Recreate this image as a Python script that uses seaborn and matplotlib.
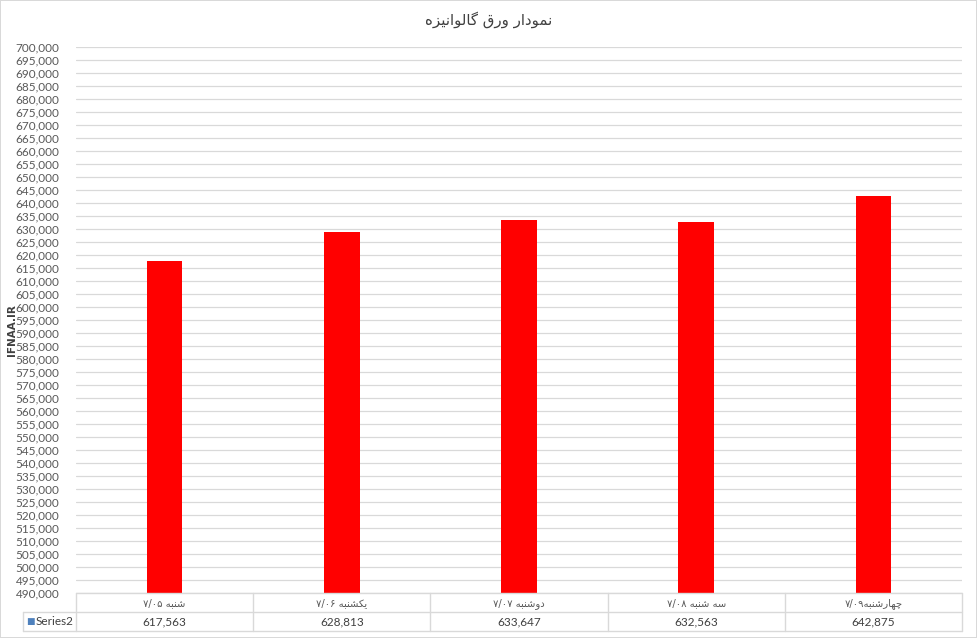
import re
import matplotlib
matplotlib.use("Agg")
import matplotlib.pyplot as plt
import matplotlib.ticker as mticker
from matplotlib.transforms import blended_transform_factory
import pandas as pd
import seaborn as sns

# ---------------- DATA ----------------
title = "نمودار ورق گالوانیزه"
categories = ["شنبه ۷/۰۵", "یکشنبه ۷/۰۶", "دوشنبه ۷/۰۷", "سه شنبه ۷/۰۸", "چهارشنبه۷/۰۹"]
values = [617563, 628813, 633647, 632563, 642875]
series_name = "Series2"
y_label = "IFNAA.IR"
y_min, y_max, y_step = 490000, 700000, 5000

# ---------------- ARABIC SHAPING ----------------
# matplotlib has no complex text layout, so letters are mapped to their
# presentation forms and put in visual order by hand
FORMS = {  # isolated, final, initial, medial
    "ا": ("\uFE8D", "\uFE8E", None, None),
    "ب": ("\uFE8F", "\uFE90", "\uFE91", "\uFE92"),
    "د": ("\uFEA9", "\uFEAA", None, None),
    "ر": ("\uFEAD", "\uFEAE", None, None),
    "ز": ("\uFEAF", "\uFEB0", None, None),
    "س": ("\uFEB1", "\uFEB2", "\uFEB3", "\uFEB4"),
    "ش": ("\uFEB5", "\uFEB6", "\uFEB7", "\uFEB8"),
    "ق": ("\uFED5", "\uFED6", "\uFED7", "\uFED8"),
    "ل": ("\uFEDD", "\uFEDE", "\uFEDF", "\uFEE0"),
    "م": ("\uFEE1", "\uFEE2", "\uFEE3", "\uFEE4"),
    "ن": ("\uFEE5", "\uFEE6", "\uFEE7", "\uFEE8"),
    "ه": ("\uFEE9", "\uFEEA", "\uFEEB", "\uFEEC"),
    "و": ("\uFEED", "\uFEEE", None, None),
    "ک": ("\uFB8E", "\uFB8F", "\uFB90", "\uFB91"),
    "گ": ("\uFB92", "\uFB93", "\uFB94", "\uFB95"),
    "ی": ("\uFBFC", "\uFBFD", "\uFBFE", "\uFBFF"),
    "چ": ("\uFB7A", "\uFB7B", "\uFB7C", "\uFB7D"),
}
DIGITS = "۰۱۲۳۴۵۶۷۸۹0123456789/,"


def joins_next(ch):
    return ch in FORMS and FORMS[ch][2] is not None


def shape(text):
    out = []
    for i, ch in enumerate(text):
        if ch not in FORMS:
            out.append(ch)
            continue
        prev = text[i - 1] if i > 0 else ""
        nxt = text[i + 1] if i + 1 < len(text) else ""
        p = joins_next(prev)
        n = joins_next(ch) and nxt in FORMS
        isol, fina, init, medi = FORMS[ch]
        if p and n:
            out.append(medi)
        elif p:
            out.append(fina)
        elif n:
            out.append(init)
        else:
            out.append(isol)
    s = "".join(out)
    runs = re.findall(r"[۰-۹0-9/,]+|[^۰-۹0-9/,]+", s)
    return "".join(r if r[0] in DIGITS else r[::-1] for r in reversed(runs))


# ---------------- PLOT ----------------
sns.set_style("white")
plt.rcParams["font.family"] = ["Lato", "DejaVu Sans"]

W, H = 977, 638
fig = plt.figure(figsize=(W / 100, H / 100), dpi=100, facecolor="white",
                 edgecolor="#d9d9d9", linewidth=1.2)
ax = fig.add_axes([76 / W, 1 - 593 / H, (962 - 76) / W, (593 - 47) / H])

df = pd.DataFrame({"day": [shape(c) for c in categories], "price": values})
sns.barplot(data=df, x="day", y="price", color="#ff0000", saturation=1,
            width=0.2, ax=ax, edgecolor="none")

ax.set_ylim(y_min, y_max)
ax.set_xlim(-0.5, len(categories) - 0.5)
ax.yaxis.set_major_locator(mticker.MultipleLocator(y_step))
ax.yaxis.set_major_formatter(mticker.StrMethodFormatter("{x:,.0f}"))
ax.yaxis.grid(True, color="#d9d9d9", lw=0.9)
ax.set_axisbelow(True)
for s in ax.spines.values():
    s.set_visible(False)
ax.tick_params(axis="y", length=0, pad=12, labelsize=8.5, labelcolor="#595959")
ax.tick_params(axis="x", length=0, pad=3.5, labelcolor="#595959")
for lab in ax.get_xticklabels():
    lab.set_fontfamily("DejaVu Sans")
    lab.set_fontsize(7.2)
ax.set_xlabel("")
ax.set_ylabel("")

# ---------------- DATA TABLE ----------------
tr = blended_transform_factory(ax.transAxes, fig.transFigure)
n = len(categories)
px = 1 / (962 - 76)  # one pixel in axes fraction
left = (23 - 76) * px
y_top, y_mid, y_bot = 1 - 593 / H, 1 - 612 / H, 1 - 631 / H
lc = "#d9d9d9"
ax.plot([0, 1], [y_top, y_top], color=lc, lw=1, transform=tr, clip_on=False)
ax.plot([left, 1], [y_mid, y_mid], color=lc, lw=1, transform=tr, clip_on=False)
ax.plot([left, 1], [y_bot, y_bot], color=lc, lw=1, transform=tr, clip_on=False)
ax.plot([left, left], [y_mid, y_bot], color=lc, lw=1, transform=tr, clip_on=False)
for k in range(n + 1):
    ax.plot([k / n, k / n], [y_top, y_bot], color=lc, lw=1, transform=tr, clip_on=False)

y_row = (y_mid + y_bot) / 2
for i, v in enumerate(values):
    ax.text((i + 0.5) / n, y_row, f"{v:,}", transform=tr, ha="center", va="center",
            fontsize=8.5, color="#404040")
ax.text(left + 3 * px, y_row, "■", transform=tr, ha="left", va="center",
        fontsize=6.5, color="#4f81bd", family="DejaVu Sans")
ax.text(left + 13 * px, y_row, series_name, transform=tr, ha="left", va="center",
        fontsize=8.5, color="#404040")

# ---------------- TITLES ----------------
fig.text(0.5, 1 - 20 / H, shape(title), ha="center", va="center",
         fontsize=10.8, color="#404040", family="DejaVu Sans")
fig.text(12 / W, 1 - 330 / H, y_label, rotation=90, ha="center", va="center",
         fontsize=7.5, fontweight="bold", color="#404040", family="DejaVu Sans")

fig.savefig("out.png", dpi=100, facecolor=fig.get_facecolor(),
            edgecolor=fig.get_edgecolor())
